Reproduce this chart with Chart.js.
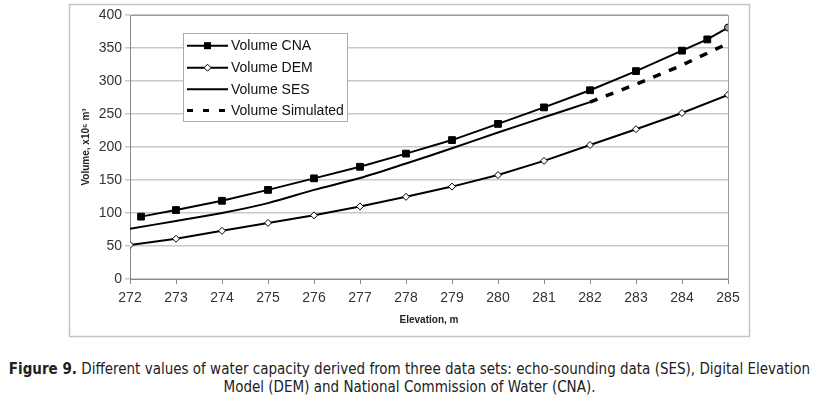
<!DOCTYPE html>
<html>
<head>
<meta charset="utf-8">
<script src="https://cdn.jsdelivr.net/npm/chart.js@4.4.0/dist/chart.umd.min.js"></script>
<style>
body{margin:0;background:#fff;width:819px;height:399px;overflow:hidden;position:relative}
#wrap{position:absolute;left:0;top:0;width:819px;height:345px}
#caption{position:absolute;left:0;top:360px;width:819px;text-align:center;font:15px "DejaVu Sans Condensed","DejaVu Sans",sans-serif;line-height:18px;color:#222}
</style>
</head>
<body>
<div id="wrap"><canvas id="myChart"></canvas></div>
<div id="caption"><b>Figure 9.</b> Different values of water capacity derived from three data sets: echo-sounding data (SES), Digital Elevation<br>Model (DEM) and National Commission of Water (CNA).</div>
<script>
// elevations (m) and volumes (x10^6 m3)
const cnaElev = [272.24, 273, 274, 275, 276, 277, 278, 279, 280, 281, 282, 283, 284, 284.55, 285];
const cnaVol  = [94.5, 104.5, 118.5, 135, 152.5, 170, 190, 210.5, 235, 260, 286, 315, 346, 363, 381];

const demElev = [272, 273, 274, 275, 276, 277, 278, 279, 280, 281, 282, 283, 284, 285];
const demVol  = [51.5, 61, 73, 85, 96.5, 110, 124.5, 140, 157.5, 179, 203, 227, 251.5, 279];

const sesElev = [272, 273, 274, 275, 276, 277, 278, 279, 280, 281, 282];
const sesVol  = [76, 88, 100, 115, 135, 153, 175, 198, 222, 245, 268];

const simElev = [282, 283, 284, 285];
const simVol  = [268, 295, 324, 357];

const yTicks = [0, 50, 100, 150, 200, 250, 300, 350, 400];

function toPoints(xs, ys) {
	return xs.map((x, i) => ({x: x, y: ys[i]}));
}

// last CNA marker is drawn as a small grey circle in the original
let lastCna = cnaElev.length - 1;
let cnaStyles = cnaElev.map((e, i) => i == lastCna ? 'circle' : 'rect');
let cnaFill = cnaElev.map((e, i) => i == lastCna ? '#999' : '#000');
let cnaRadius = cnaElev.map((e, i) => i == lastCna ? 3.5 : 4.8);

const tickFont = {family: 'Liberation Sans, Arial, sans-serif', size: 14};

// outer frame + top/right border of the plot area
const framePlugin = {
	id: 'frame',
	beforeDraw(chart) {
		const ctx = chart.ctx;
		ctx.save();
		ctx.strokeStyle = '#c4c4c4';
		ctx.lineWidth = 1.5;
		ctx.strokeRect(69.5, 4.5, 680, 332);
		ctx.restore();
	},
	afterDatasetsDraw(chart) {
		const a = chart.chartArea;
		const ctx = chart.ctx;
		ctx.save();
		ctx.strokeStyle = '#999';
		ctx.lineWidth = 1;
		ctx.beginPath();
		ctx.moveTo(a.left, a.top + 0.5);
		ctx.lineTo(a.right + 0.5, a.top + 0.5);
		ctx.lineTo(a.right + 0.5, a.bottom);
		ctx.stroke();
		ctx.restore();
	}
};

// legend box inside the plot
const boxLegend = {
	id: 'boxLegend',
	afterDraw(chart) {
		const ctx = chart.ctx;
		ctx.save();
		ctx.fillStyle = '#fff';
		ctx.fillRect(183, 33, 164, 88);
		ctx.strokeStyle = '#aaa';
		ctx.lineWidth = 1;
		ctx.strokeRect(183.5, 33.5, 164, 88);
		const rows = [45.7, 67.7, 89.3, 110.5];
		chart.data.datasets.forEach((ds, i) => {
			const y = rows[i];
			ctx.strokeStyle = '#000';
			ctx.lineWidth = i == 3 ? 3 : 2;
			ctx.setLineDash(i == 3 ? [6, 10] : []);
			ctx.beginPath();
			ctx.moveTo(187, y);
			ctx.lineTo(228, y);
			ctx.stroke();
			ctx.setLineDash([]);
			if (i == 0) {
				ctx.fillStyle = '#000';
				ctx.fillRect(204, y - 3.5, 7, 7);
			}
			if (i == 1) {
				ctx.fillStyle = '#fff';
				ctx.lineWidth = 1;
				ctx.beginPath();
				ctx.moveTo(207.5, y - 3.5); ctx.lineTo(211, y); ctx.lineTo(207.5, y + 3.5); ctx.lineTo(204, y); ctx.closePath();
				ctx.fill(); ctx.stroke();
			}
			ctx.fillStyle = '#111';
			ctx.font = '14px "Liberation Sans", Arial, sans-serif';
			ctx.textBaseline = 'middle';
			ctx.fillText(ds.label, 231, y + 0.5);
		});
		ctx.restore();
	}
};

const myChart = document.getElementById('myChart');

let lineChart = new Chart(myChart, {
	type: 'line',
	data: {
		datasets: [{
			label: 'Volume CNA',
			data: toPoints(cnaElev, cnaVol),
			borderColor: '#000',
			borderWidth: 2,
			pointStyle: cnaStyles,
			pointRadius: cnaRadius,
			pointBackgroundColor: cnaFill,
			pointBorderColor: '#000',
			pointBorderWidth: 1,
			tension: 0
		}, {
			label: 'Volume DEM',
			data: toPoints(demElev, demVol),
			borderColor: '#000',
			borderWidth: 2,
			pointStyle: 'rectRot',
			pointRadius: 3.5,
			pointBackgroundColor: '#fff',
			pointBorderColor: '#000',
			pointBorderWidth: 1,
			tension: 0
		}, {
			label: 'Volume SES',
			data: toPoints(sesElev, sesVol),
			borderColor: '#000',
			borderWidth: 2,
			pointRadius: 0,
			tension: 0.3
		}, {
			label: 'Volume Simulated',
			data: toPoints(simElev, simVol),
			borderColor: '#000',
			borderWidth: 3.5,
			borderDash: [8, 9],
			pointRadius: 0,
			tension: 0
		}]
	},
	options: {
		responsive: true,
		maintainAspectRatio: false,
		animation: false,
		events: [],
		layout: {padding: {left: 69, right: 91, top: 15, bottom: 16}},
		plugins: {legend: {display: false}, tooltip: {enabled: false}},
		scales: {
			x: {
				type: 'linear',
				min: 272,
				max: 285,
				afterFit: s => { s.height = 50; },
				ticks: {stepSize: 1, font: tickFont, color: '#333', padding: 6, maxRotation: 0},
				grid: {drawOnChartArea: false, tickLength: 5, color: '#888'},
				border: {color: '#888'},
				title: {display: true, text: 'Elevation, m', color: '#222',
					font: {family: 'Liberation Sans, Arial, sans-serif', size: 10, weight: 'bold'},
					padding: {top: 0, bottom: 3}}
			},
			y: {
				min: 0,
				max: 400,
				afterFit: s => { s.width = 61; },
				afterBuildTicks: s => { s.ticks = yTicks.map(v => ({value: v})); },
				ticks: {font: tickFont, color: '#333', padding: 3},
				grid: {color: '#c8c8c8', tickLength: 5, lineWidth: 1.5},
				border: {color: '#888'},
				title: {display: true, text: 'Volume, x10⁶ m³', color: '#222',
					font: {family: 'Liberation Sans, Arial, sans-serif', size: 10, weight: 'bold'},
					padding: {top: 11, bottom: 0}}
			}
		}
	},
	plugins: [framePlugin, boxLegend]
});
</script>
</body>
</html>
